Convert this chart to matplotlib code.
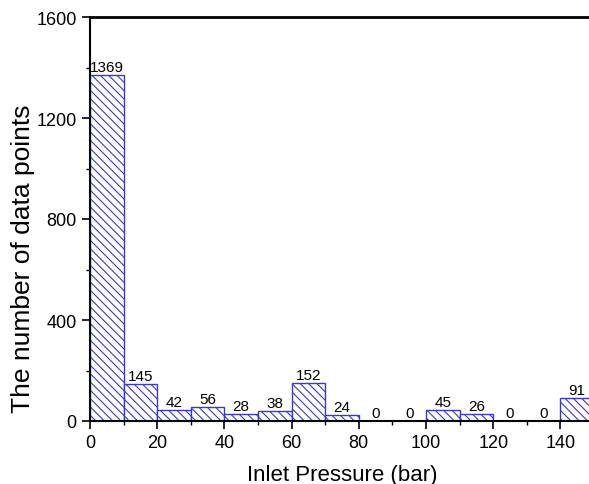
import numpy as np
import matplotlib.pyplot as plt

plt.rcParams['font.family'] = ['Liberation Sans', 'DejaVu Sans']
plt.rcParams['hatch.color'] = '#3a3ac0'
plt.rcParams['hatch.linewidth'] = 0.8

# bin edges (bar) and counts
bin_left = [0, 10, 20, 30, 40, 50, 60, 70, 80, 90, 100, 110, 120, 130, 140]
counts = [1369, 145, 42, 56, 28, 38, 152, 24, 0, 0, 45, 26, 0, 0, 91]
bin_width = 10

fig = plt.figure(figsize=(5.89, 4.85), dpi=100)
# axes runs a bit past the right edge like the cropped original
ax = fig.add_axes([90 / 589, 1 - 422 / 485, 504 / 589, 404 / 485])

ax.bar(bin_left, counts, width=bin_width, align='edge',
       color='white', edgecolor='#3a3ac0', linewidth=1.0, hatch='\\\\\\\\')

for x, c in zip(bin_left, counts):
    ax.text(x + bin_width / 2, c + 4, str(c), ha='center', va='bottom', fontsize=11)

ax.set_xlim(0, 150)
ax.set_ylim(0, 1600)
ax.set_xticks([0, 20, 40, 60, 80, 100, 120, 140])
ax.set_xticks(np.arange(10, 150, 20), minor=True)
ax.set_yticks([0, 400, 800, 1200, 1600])
ax.set_yticks([200, 600, 1000, 1400], minor=True)
ax.tick_params(which='major', direction='out', length=6, width=1.2, labelsize=13)
ax.tick_params(which='minor', direction='out', length=3, width=1.0)

for s in ax.spines.values():
    s.set_linewidth(1.5)
ax.spines['top'].set_linewidth(2)

ax.set_xlabel('Inlet Pressure (bar)', fontsize=16, labelpad=9)
ax.set_ylabel('The number of data points', fontsize=19, va='center')
ax.yaxis.set_label_coords(-0.133, 0.405)

fig.savefig('out.png', dpi=100)
